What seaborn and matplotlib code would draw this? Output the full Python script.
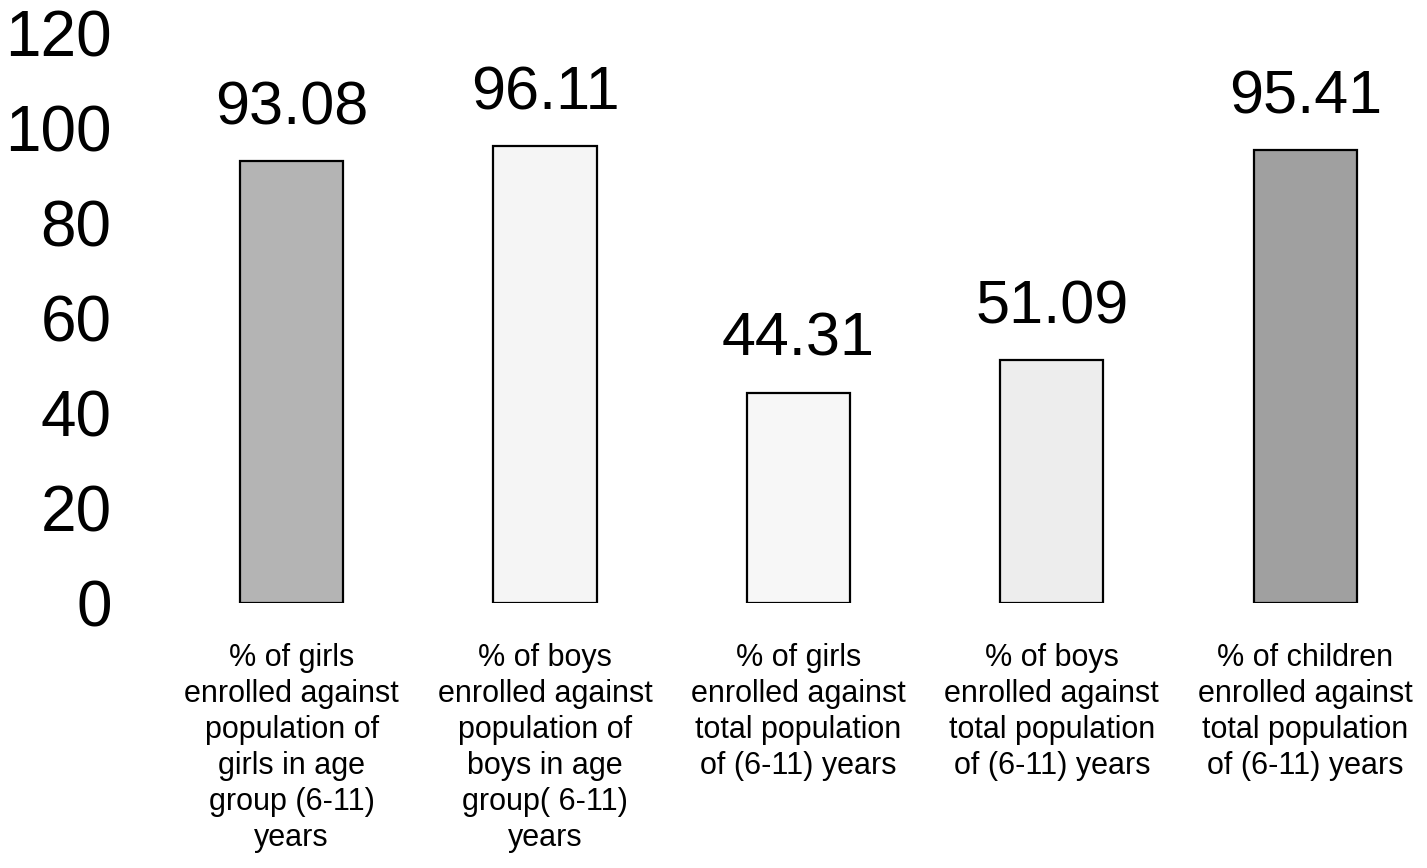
import pandas as pd
import seaborn as sns
import matplotlib.pyplot as plt

categories = [
    "% of girls\nenrolled against\npopulation of\ngirls in age\ngroup (6-11)\nyears",
    "% of boys\nenrolled against\npopulation of\nboys in age\ngroup( 6-11)\nyears",
    "% of girls\nenrolled against\ntotal population\nof (6-11) years",
    "% of boys\nenrolled against\ntotal population\nof (6-11) years",
    "% of children\nenrolled against\ntotal population\nof (6-11) years",
]
values = [93.08, 96.11, 44.31, 51.09, 95.41]
bar_colors = ["#b4b4b4", "#f5f5f5", "#f7f7f7", "#ededed", "#a0a0a0"]
y_ticks = [0, 20, 40, 60, 80, 100, 120]

df = pd.DataFrame({"Category": categories, "Value": values})

sns.set_style("white")
plt.rcParams['font.family'] = ['Liberation Sans', 'DejaVu Sans']
plt.rcParams['text.color'] = 'black'
plt.rcParams['xtick.color'] = 'black'
plt.rcParams['ytick.color'] = 'black'

fig = plt.figure(figsize=(14.27, 8.68), dpi=100)
ax = fig.add_axes([170 / 1427, 0.3053, 1250 / 1427, 0.962 - 0.3053])

sns.barplot(
    data=df, x="Category", y="Value", hue="Category",
    palette=bar_colors, legend=False, width=0.407,
    edgecolor="black", linewidth=1.6, ax=ax,
)

# value labels above bars
for cont in ax.containers:
    ax.bar_label(cont, fmt="%.2f", padding=17, fontsize=44, color="black")

ax.set_ylim(0, 120)
ax.set_xlim(-0.48, 4.453)
ax.set_yticks(y_ticks)
ax.tick_params(axis="y", labelsize=46, length=0, pad=42, labelcolor="black")
ax.tick_params(axis="x", labelsize=22, length=0, pad=29, labelcolor="black")
for lbl in ax.get_xticklabels():
    lbl.set_linespacing(1.26)
ax.set_xlabel("")
ax.set_ylabel("")
sns.despine(ax=ax, left=True, bottom=True)

fig.savefig("out.png", dpi=100, facecolor="white")
